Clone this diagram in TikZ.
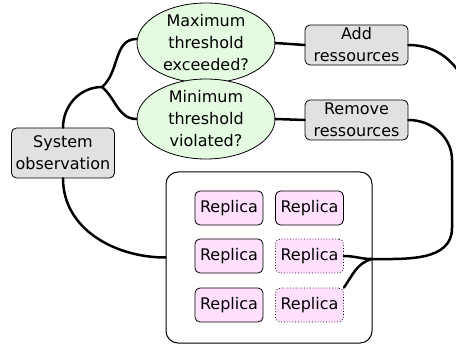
\documentclass[tikz,border=0pt]{standalone}
\usepackage{fontspec}
\setmainfont{DejaVu Sans}
\usetikzlibrary{shapes.geometric}
\definecolor{ellfill}{HTML}{E4FBE2}
\definecolor{boxfill}{HTML}{E0E2E0}
\definecolor{repfill}{HTML}{FFE0FF}
\begin{document}
\begin{tikzpicture}[x=1pt,y=-1pt,
  every node/.style={font=\fontsize{16}{22}\selectfont, align=center},
  thresh/.style={ellipse, draw=black, line width=0.8pt, fill=ellfill, minimum width=138pt, minimum height=80pt, inner sep=0pt},
  graybox/.style={rectangle, rounded corners=5pt, draw=black, line width=0.8pt, fill=boxfill, minimum width=103pt, inner sep=0pt},
  replica/.style={rectangle, rounded corners=5pt, draw=black, line width=0.8pt, fill=repfill, minimum width=68pt, minimum height=34pt, inner sep=0pt},
  ghost/.style={replica, dotted},
  container/.style={rectangle, rounded corners=12pt, draw=black, line width=1pt, fill=white, minimum width=206pt, minimum height=171pt},
  conn/.style={line width=2.5pt, line cap=round}
]
\useasboundingbox (0,0) rectangle (456,345);
\begin{scope}
\clip (0,0) rectangle (456,345);
% nodes
\node[container] (cont) at (269,257.5) {};
\node[replica] (r11) at (229,208) {Replica};
\node[replica] (r12) at (309.5,208) {Replica};
\node[replica] (r21) at (229,256) {Replica};
\node[ghost] (r22) at (309.5,256) {Replica};
\node[replica] (r31) at (229,305) {Replica};
\node[ghost] (r32) at (309.5,305) {Replica};
\node[thresh] (top) at (206,43) {Maximum\\threshold\\exceeded?};
\node[thresh] (bot) at (206,119) {Minimum\\threshold\\violated?};
\node[graybox, minimum height=50pt] (sys) at (63,153) {System\\observation};
\node[graybox, minimum height=40pt] (add) at (356.5,45) {Add\\ressources};
\node[graybox, minimum height=40pt] (rem) at (356.5,120) {Remove\\ressources};
% coordinates
\coordinate (jL) at (102,87);
\coordinate (jR) at (372,259);
\coordinate (offR) at (468,90);
\coordinate (rv1) at (452,160);
\coordinate (rv2) at (452,228);
% connectors
\draw[conn] (sys.north) to[out=90,in=180] (jL);
\draw[conn] (jL) to[out=40,in=180] ([yshift=4pt]top.west);
\draw[conn] (jL) to[out=-40,in=180] (bot.west);
\draw[conn] (top.east) -- (add.west);
\draw[conn] (bot.east) -- (rem.west);
\draw[conn] (add.east) to[out=0,in=110] (offR);
\draw[conn] (rem.east) to[out=0,in=90] (rv1) -- (rv2) to[out=-90,in=0] (jR);
\draw[conn] (jR) to[out=180,in=0] (r22.east);
\draw[conn] (jR) to[out=195,in=55] (r32.north east);
\draw[conn] (sys.south) to[out=-90,in=180] (cont.west);
\end{scope}
\end{tikzpicture}
\end{document}
